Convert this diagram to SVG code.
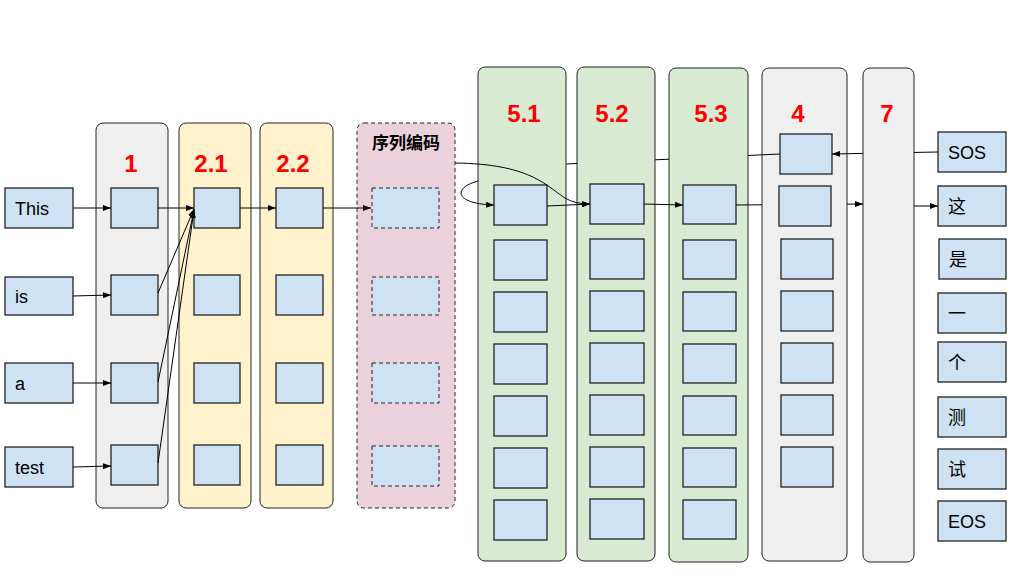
<svg xmlns="http://www.w3.org/2000/svg" width="1027" height="584" viewBox="0 0 1027 584">
<defs>
<style>
.cg{fill:#efefef;stroke:#222;stroke-width:1}
.cy{fill:#fff2cc;stroke:#222;stroke-width:1}
.cn{fill:#d9ead3;stroke:#222;stroke-width:1}
.cp{fill:#ead1dc;stroke:#222;stroke-width:1;stroke-dasharray:4 3}
.b{fill:#cfe2f3;stroke:#222;stroke-width:1.3}
.bd{fill:#cfe2f3;stroke:#222;stroke-width:1;stroke-dasharray:4 3}
.lab{font-family:"Liberation Sans",Arial,sans-serif;font-weight:bold;font-size:24px;fill:#ff0000;text-anchor:middle}
.t{font-family:"Liberation Sans","Noto Sans CJK SC",sans-serif;font-size:18px;fill:#000}
.title{font-family:"Noto Sans CJK SC",sans-serif;font-weight:bold;font-size:17px;fill:#000;text-anchor:middle}
.c{fill:none;stroke:#000;stroke-width:1;marker-end:url(#ah)}
</style>
<marker id="ah" markerWidth="8" markerHeight="6" refX="8" refY="3" orient="auto" markerUnits="userSpaceOnUse">
<path d="M0,0 L8,3 L0,6 Z" fill="#000"/>
</marker>
</defs>
<rect width="1027" height="584" fill="#fff"/>

<g id="col1">
<rect class="cg" x="96" y="123" width="72" height="385" rx="7"/>
<text class="lab" x="131" y="172">1</text>
<rect class="b" x="111" y="188" width="47" height="40"/>
<rect class="b" x="111" y="275" width="47" height="40"/>
<rect class="b" x="111" y="363" width="47" height="40"/>
<rect class="b" x="111" y="445" width="47" height="40"/>
</g>
<g id="col2_1">
<rect class="cy" x="179" y="123" width="72" height="385" rx="7"/>
<text class="lab" x="211" y="172">2.1</text>
<rect class="b" x="194" y="188" width="46" height="40"/>
<rect class="b" x="194" y="275" width="46" height="40"/>
<rect class="b" x="194" y="363" width="46" height="40"/>
<rect class="b" x="194" y="445" width="46" height="40"/>
</g>
<g id="col2_2">
<rect class="cy" x="260" y="123" width="73" height="385" rx="7"/>
<text class="lab" x="293" y="172">2.2</text>
<rect class="b" x="276" y="188" width="47" height="40"/>
<rect class="b" x="276" y="275" width="47" height="40"/>
<rect class="b" x="276" y="363" width="47" height="40"/>
<rect class="b" x="276" y="445" width="47" height="40"/>
</g>
<g id="seq">
<rect class="cp" x="357" y="123" width="98" height="385" rx="7"/>
<text class="title" x="406" y="149">序列编码</text>
<rect class="bd" x="372" y="188" width="67" height="40"/>
<rect class="bd" x="372" y="277" width="67" height="38"/>
<rect class="bd" x="372" y="363" width="67" height="40"/>
<rect class="bd" x="372" y="446" width="67" height="40"/>
</g>
<g id="col5_1">
<rect class="cn" x="478" y="67" width="88" height="494" rx="7"/>
<text class="lab" x="524" y="122">5.1</text>
<rect class="b" x="494" y="185" width="53" height="40"/>
<rect class="b" x="494" y="240" width="53" height="40"/>
<rect class="b" x="494" y="292" width="53" height="40"/>
<rect class="b" x="494" y="344" width="53" height="40"/>
<rect class="b" x="494" y="396" width="53" height="40"/>
<rect class="b" x="494" y="448" width="53" height="40"/>
<rect class="b" x="494" y="500" width="53" height="40"/>
</g>
<g id="col5_2">
<rect class="cn" x="577" y="67" width="78" height="494" rx="7"/>
<text class="lab" x="612" y="122">5.2</text>
<rect class="b" x="590" y="184" width="54" height="40"/>
<rect class="b" x="590" y="239" width="54" height="40"/>
<rect class="b" x="590" y="291" width="54" height="40"/>
<rect class="b" x="590" y="343" width="54" height="40"/>
<rect class="b" x="590" y="395" width="54" height="40"/>
<rect class="b" x="590" y="447" width="54" height="40"/>
<rect class="b" x="590" y="499" width="54" height="40"/>
</g>
<g id="col5_3">
<rect class="cn" x="669" y="68" width="79" height="494" rx="7"/>
<text class="lab" x="711" y="122">5.3</text>
<rect class="b" x="683" y="185" width="53" height="39"/>
<rect class="b" x="683" y="240" width="53" height="39"/>
<rect class="b" x="683" y="292" width="53" height="39"/>
<rect class="b" x="683" y="344" width="53" height="39"/>
<rect class="b" x="683" y="396" width="53" height="39"/>
<rect class="b" x="683" y="448" width="53" height="39"/>
<rect class="b" x="683" y="500" width="53" height="39"/>
</g>
<g id="col4">
<rect class="cg" x="762" y="68" width="85" height="493" rx="7"/>
<text class="lab" x="798" y="122">4</text>
<rect class="b" x="780" y="134" width="52" height="40"/>
<rect class="b" x="779" y="186" width="52" height="40"/>
<rect class="b" x="781" y="239" width="52" height="40"/>
<rect class="b" x="781" y="291" width="52" height="40"/>
<rect class="b" x="781" y="343" width="52" height="40"/>
<rect class="b" x="781" y="395" width="52" height="40"/>
<rect class="b" x="781" y="447" width="52" height="40"/>
</g>
<g id="col7">
<rect class="cg" x="863" y="68" width="51" height="494" rx="7"/>
<text class="lab" x="887" y="122">7</text>
</g>

<g id="in_this"><rect class="b" x="5" y="188" width="68" height="40"/><text class="t" x="15" y="215">This</text></g>
<g id="in_is"><rect class="b" x="5" y="277" width="68" height="38"/><text class="t" x="15" y="303">is</text></g>
<g id="in_a"><rect class="b" x="5" y="363" width="68" height="40"/><text class="t" x="15" y="390">a</text></g>
<g id="in_test"><rect class="b" x="5" y="447" width="68" height="40"/><text class="t" x="15" y="474">test</text></g>

<g id="out_sos"><rect class="b" x="938" y="132" width="68" height="40"/><text class="t" x="948" y="159">SOS</text></g>
<g id="out_zhe"><rect class="b" x="938" y="186" width="68" height="40"/><text class="t" x="948" y="213">这</text></g>
<g id="out_shi"><rect class="b" x="939" y="239" width="67" height="40"/><text class="t" x="949" y="266">是</text></g>
<g id="out_yi"><rect class="b" x="938" y="293" width="68" height="40"/><text class="t" x="948" y="320">一</text></g>
<g id="out_ge"><rect class="b" x="938" y="342" width="68" height="40"/><text class="t" x="948" y="369">个</text></g>
<g id="out_ce"><rect class="b" x="938" y="397" width="68" height="40"/><text class="t" x="948" y="424">测</text></g>
<g id="out_shi2"><rect class="b" x="938" y="449" width="68" height="40"/><text class="t" x="948" y="476">试</text></g>
<g id="out_eos"><rect class="b" x="938" y="501" width="68" height="40"/><text class="t" x="948" y="528">EOS</text></g>

<g id="connectors">
<path class="c" d="M73,208 L111,208"/>
<path class="c" d="M73,296 L111,295"/>
<path class="c" d="M73,383 L111,383"/>
<path class="c" d="M73,467 L111,466"/>
<path class="c" d="M158,208 L194,208"/>
<path class="c" d="M158,293 L194,209"/>
<path class="c" d="M158,382 L194,210"/>
<path class="c" d="M158,463 L194,210"/>
<path class="c" d="M240,208 L276,208"/>
<path class="c" d="M323,208 L371,208"/>
<path class="c" d="M455,163 C530,164 545,185 565,198 Q575,204 590,204"/>
<path class="c" d="M547,206 L590,204"/>
<path class="c" d="M644,204 L683,205"/>
<path class="c" d="M736,205 L863,204" stroke-dasharray="26 85 100"/>
<path class="c" d="M914,206 L938,206"/>
<path class="c" d="M938,152 L832,154" stroke-dasharray="24 51 40"/>
<path class="c" d="M780,154 L566,164 L478,181 C452,188 455,204 494,205" stroke-dasharray="32 79 14 78 11 90 400"/>
</g>
</svg>
